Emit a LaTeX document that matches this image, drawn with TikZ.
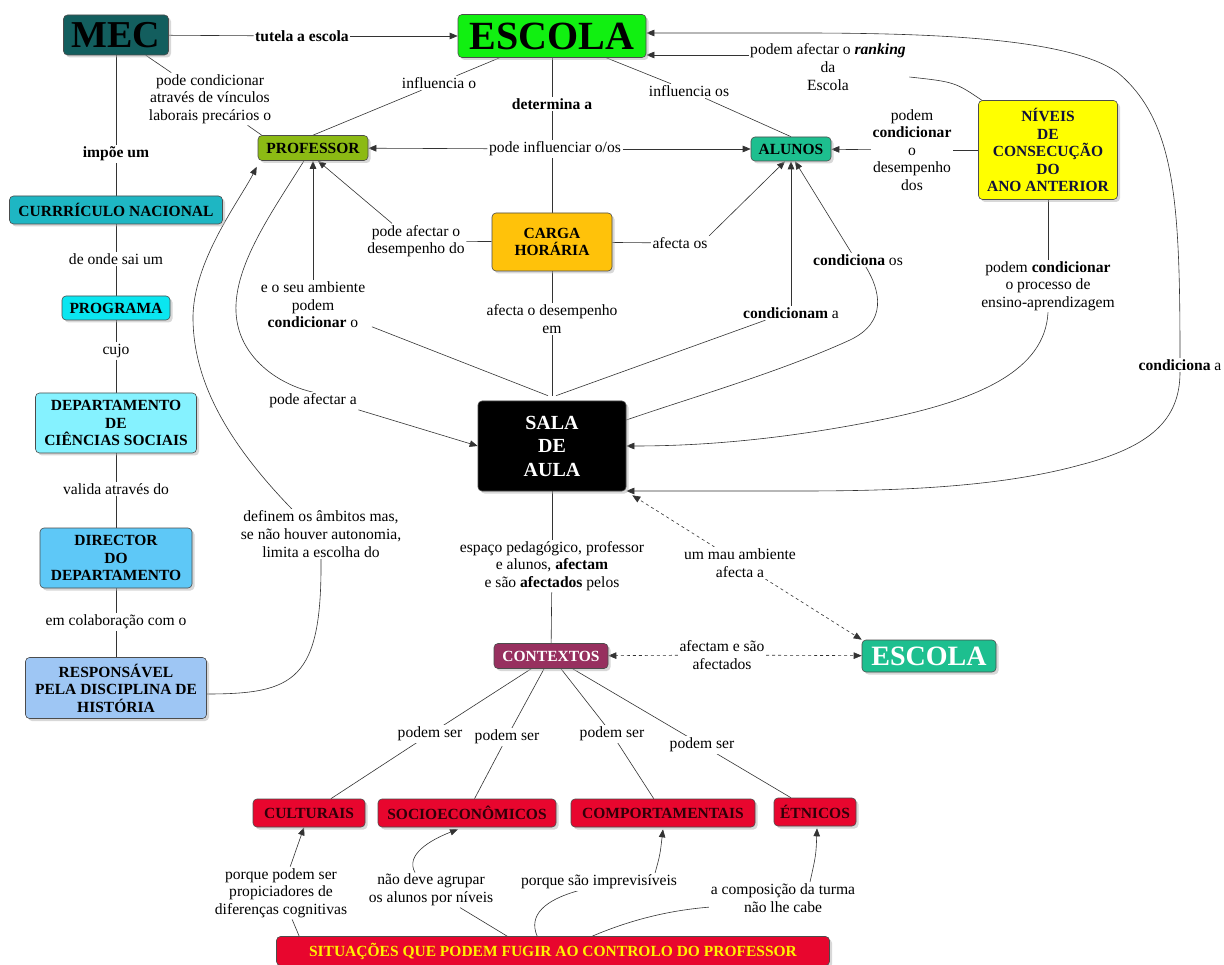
\documentclass[tikz,border=0pt]{standalone}
\usepackage{fontspec}
\setmainfont{Liberation Serif}
\usetikzlibrary{arrows.meta,shadows,backgrounds,calc}
\definecolor{cmec}{HTML}{135E5E}
\definecolor{cesc}{HTML}{11F011}
\definecolor{cprof}{HTML}{8CBA14}
\definecolor{calu}{HTML}{1DBF8F}
\definecolor{cniv}{HTML}{FFFF00}
\definecolor{ccar}{HTML}{FFC20A}
\definecolor{ccur}{HTML}{1EB6C3}
\definecolor{cprog}{HTML}{0AE6F0}
\definecolor{cdep}{HTML}{85F2FF}
\definecolor{cdir}{HTML}{5EC8F7}
\definecolor{cresp}{HTML}{9EC6F4}
\definecolor{cctx}{HTML}{97305F}
\definecolor{cred}{HTML}{E8062E}
\definecolor{credtxt}{HTML}{300008}
\definecolor{cline}{HTML}{333333}
\definecolor{cnivtxt}{HTML}{10103A}
\newcommand\cmbox{\fontsize{15.5}{17.5}\selectfont\bfseries}
\newcommand\cmlbl{\fontsize{15.6}{17.6}\selectfont}
\begin{document}
\begin{tikzpicture}[x=1pt,y=-1pt,
  cbox/.style={draw=black!70, line width=0.6pt, rounded corners=4pt, align=center,
    inner sep=0pt, font=\cmbox,
    drop shadow={shadow xshift=2.5pt, shadow yshift=-2.5pt, fill=black!30, opacity=0.5}},
  lbl/.style={font=\cmlbl, align=center, inner sep=1.5pt, fill=white},
  link/.style={draw=cline, line width=0.6pt},
  arr/.style={link, -{Triangle[length=8pt,width=6.5pt]}},
  darr/.style={link, dashed, -{Triangle[length=8pt,width=6.5pt]}}
]
\useasboundingbox (0,0) rectangle (1224,965);
\begin{scope}[on background layer]
\fill[white] (0,0) rectangle (1224,965);
\end{scope}

% ---------- concept boxes ----------
\node[cbox, fill=cmec, minimum width=105pt, minimum height=40pt, font=\fontsize{38}{40}\selectfont\bfseries] (mec) at (116,35) {MEC};
\node[cbox, fill=cesc, minimum width=188pt, minimum height=43pt, font=\fontsize{40}{42}\selectfont\bfseries] (esc) at (552,36) {ESCOLA};
\node[cbox, fill=cprof, minimum width=110pt, minimum height=25pt] (prof) at (313,148) {PROFESSOR};
\node[cbox, fill=calu, minimum width=80pt, minimum height=24pt] (alu) at (791,149) {ALUNOS};
\node[cbox, fill=cniv, text=cnivtxt, minimum width=139pt, minimum height=99pt] (niv) at (1048,150) {NÍVEIS\\DE\\CONSECUÇÃO\\DO\\ANO ANTERIOR};
\node[cbox, fill=ccar, minimum width=120pt, minimum height=58pt] (car) at (552,242) {CARGA\\HORÁRIA};
\node[cbox, fill=black, text=white, minimum width=148pt, minimum height=90pt, font=\fontsize{20}{23.5}\selectfont\bfseries] (sala) at (552,446) {SALA\\DE\\AULA};
\node[cbox, fill=ccur, minimum width=213pt, minimum height=28pt] (cur) at (116,210) {CURRRÍCULO NACIONAL};
\node[cbox, fill=cprog, minimum width=108pt, minimum height=24pt] (prog) at (116,308) {PROGRAMA};
\node[cbox, fill=cdep, minimum width=161pt, minimum height=60pt] (dep) at (116,423) {DEPARTAMENTO\\DE\\CIÊNCIAS SOCIAIS};
\node[cbox, fill=cdir, minimum width=152pt, minimum height=60pt] (dir) at (116,558) {DIRECTOR\\DO\\DEPARTAMENTO};
\node[cbox, fill=cresp, minimum width=181pt, minimum height=61pt] (resp) at (116,688) {RESPONSÁVEL\\PELA DISCIPLINA DE\\HISTÓRIA};
\node[cbox, fill=cctx, text=white, minimum width=114pt, minimum height=25pt] (ctx) at (551,656) {CONTEXTOS};
\node[cbox, fill=calu, text=white, minimum width=134pt, minimum height=32pt, font=\fontsize{28}{30}\selectfont\bfseries] (esc2) at (929,656) {ESCOLA};
\node[cbox, fill=cred, text=credtxt, minimum width=112pt, minimum height=28pt] (cult) at (309,813) {CULTURAIS};
\node[cbox, fill=cred, text=credtxt, minimum width=178pt, minimum height=28pt] (soc) at (467,813) {SOCIOECONÔMICOS};
\node[cbox, fill=cred, text=credtxt, minimum width=184pt, minimum height=28pt] (comp) at (663,813) {COMPORTAMENTAIS};
\node[cbox, fill=cred, text=credtxt, minimum width=82pt, minimum height=28pt] (etn) at (815,812) {ÉTNICOS};
\node[cbox, fill=cred, text=yellow, minimum width=553pt, minimum height=29pt] (sit) at (553,951) {SITUAÇÕES QUE PODEM FUGIR AO CONTROLO DO PROFESSOR};

% ---------- linking phrases ----------
\node[lbl] (tut) at (302,36) {\textbf{tutela a escola}};
\node[lbl] (pcond) at (210,99) {pode condicionar\\através de vínculos\\laborais precários o};
\node[lbl] (impoe) at (116,154) {\textbf{impõe um}};
\node[lbl] (deonde) at (116,259) {de onde sai um};
\node[lbl] (cujo) at (116,351) {cujo};
\node[lbl] (valida) at (116,489) {valida através do};
\node[lbl] (emcol) at (116,622) {em colaboração com o};
\node[lbl] (definem) at (321,534) {definem os âmbitos mas,\\se não houver autonomia,\\limita a escolha do};
\node[lbl] (eoseu) at (313,305) {e o seu ambiente\\podem\\\textbf{condicionar} o};
\node[lbl] (pafa) at (313,401) {pode afectar a};
\node[lbl] (paod) at (416,241) {pode afectar o\\desempenho do};
\node[lbl] (pinf) at (555,149) {pode influenciar o/os};
\node[lbl] (inflo) at (439,83) {influencia o};
\node[lbl] (inflos) at (689,91) {influencia os};
\node[lbl] (det) at (552,104) {\textbf{determina a}};
\node[lbl] (afos) at (680,243) {afecta os};
\node[lbl] (afdes) at (552,319) {afecta o desempenho\\em};
\node[lbl] (cnam) at (791,313) {\textbf{condicionam} a};
\node[lbl] (cnos) at (858,260) {\textbf{condiciona} os};
\node[lbl] (pcdes) at (912,150) {podem\\\textbf{condicionar}\\o\\desempenho\\dos};
\node[lbl] (rank) at (828,67) {podem afectar o \textbf{\textit{ranking}}\\da\\Escola};
\node[lbl] (cna) at (1180,365) {\textbf{condiciona} a};
\node[lbl] (pcproc) at (1048,286) {podem \textbf{condicionar}\\o processo de\\ensino-aprendizagem};
\node[lbl] (espaco) at (552,566) {espaço pedagógico, professor\\e alunos, \textbf{afectam}\\e são \textbf{afectados} pelos};
\node[lbl] (mau) at (740,563) {um mau ambiente\\afecta a};
\node[lbl] (afsao) at (722,655) {afectam e são\\afectados};
\node[lbl] (ps1) at (430,734) {podem ser};
\node[lbl] (ps2) at (507,737) {podem ser};
\node[lbl] (ps3) at (612,734) {podem ser};
\node[lbl] (ps4) at (702,745) {podem ser};
\node[lbl] (ppod) at (281,893) {porque podem ser\\propiciadores de\\diferenças cognitivas};
\node[lbl] (ndev) at (431,890) {não deve agrupar\\os alunos por níveis};
\node[lbl] (pimp) at (599,882) {porque são imprevisíveis};
\node[lbl] (acomp) at (783,898) {a composição da turma\\não lhe cabe};

% ---------- connectors ----------
\begin{scope}[on background layer]
\draw[link] (mec) -- (tut);
\draw[arr] (tut) -- (esc);
\draw[link] (mec) -- (pcond);
\draw[link] (pcond) -- ([xshift=4pt]prof.north west);
\draw[link] (mec) -- (impoe);
\draw[link] (impoe) -- (cur);
\draw[link] (cur) -- (deonde);
\draw[link] (deonde) -- (prog);
\draw[link] (prog) -- (cujo);
\draw[link] (cujo) -- (dep);
\draw[link] (dep) -- (valida);
\draw[link] (valida) -- (dir);
\draw[link] (dir) -- (emcol);
\draw[link] (emcol) -- (resp);
\draw[link] ($(resp.east)+(0,6)$) .. controls (295,694) and (322,680) .. (definem.south);
\draw[arr] ($(definem.north)+(-29,0)$) .. controls (225,440) and (194,380) .. (193,320)
  .. controls (192,262) and (240,200) .. ($(prof.south west)+(-1,6)$);
% escola
\draw[link] (esc) -- (inflo);
\draw[link] (inflo) -- (prof.north);
\draw[link] (esc) -- (inflos);
\draw[link] (inflos) -- (alu.north);
\draw[link] (esc) -- (det);
\draw[link] (det) -- (car);
\draw[arr] (pinf) -- (prof);
\draw[arr] (pinf) -- (alu);
% carga horaria
\draw[link] (car) -- (paod);
\draw[arr] ([xshift=-24pt]paod.north) -- ([xshift=5pt]prof.south);
\draw[link] (car) -- (afos);
\draw[arr] (afos.north east) -- ([xshift=-6pt]alu.south);
\draw[link] (car) -- (afdes);
\draw[link] (afdes) -- ($(sala.north)+(0,-5)$);
% sala -> professor
\draw[link] ($(sala.north)+(-4,-5)$) -- ($(eoseu.south east)+(5,-3)$);
\draw[arr] (eoseu) -- (prof);
\draw[link] ($(prof.south)+(-9,0)$) .. controls (272,212) and (234,265) .. (236,312)
  .. controls (238,358) and (280,385) .. (pafa.north);
\draw[arr] (pafa.south east) -- (sala.west);
% sala -> alunos
\draw[link] ($(sala.north)+(4,-5)$) -- ($(cnam.south west)+(24,0)$);
\draw[arr] (cnam) -- (alu);
\draw[link] ($(cnos.south)+(8,0)$) .. controls (880,290) and (888,322) .. (850,340)
  .. controls (780,372) and (690,398) .. ($(sala.east)+(0,-26)$);
\draw[arr] ([xshift=40pt]cnos.north west) -- ([xshift=4pt]alu.south);
% niveis
\draw[link] (niv) -- (pcdes);
\draw[arr] (pcdes) -- (alu);
\draw[link] ($(niv.north west)+(5,1)$) .. controls (955,82) .. ($(rank.east)+(2,10)$);
\draw[arr] ($(rank.west)+(0,-12)$) -- ($(esc.east)+(0,19)$);
\draw[link] (niv) -- (pcproc);
\draw[arr] (pcproc.south) .. controls (1045,370) and (980,400) .. (880,420)
  .. controls (780,440) and (700,446) .. (sala.east);
% escola <-> sala big arc
\draw[arr] (cna.north) .. controls (1180,200) and (1175,120) .. (1117,72)
  .. controls (1070,40) and (950,33) .. (800,33) -- ($(esc.east)+(0,-3)$);
\draw[arr] (cna.south) .. controls (1180,420) and (1150,447) .. (1080,465)
  .. controls (1000,487) and (900,491) .. (800,491) -- ($(sala.east)+(0,45)$);
% sala -> contextos
\draw[link] (sala) -- (espaco);
\draw[link] (espaco) -- (ctx);
\draw[darr] (mau) -- ($(sala.south east)+(6,4)$);
\draw[darr] (mau) -- (esc2.north west);
\draw[darr] (afsao) -- (ctx);
\draw[darr] (afsao) -- (esc2);
% contextos -> categories
\draw[link] (ctx) -- (ps1);
\draw[link] (ps1) -- (cult);
\draw[link] (ctx) -- (ps2);
\draw[link] (ps2) -- (soc);
\draw[link] (ctx) -- (ps3);
\draw[link] (ps3) -- (comp);
\draw[link] (ctx) -- (ps4);
\draw[link] (ps4) -- (etn);
% situacoes
\draw[link] ([xshift=23pt]sit.north west) -- (ppod);
\draw[arr] (ppod) -- (cult);
\draw[link] ([xshift=231pt]sit.north west) -- (ndev);
\draw[arr] ([xshift=-16pt]ndev.north) .. controls (405,855) and (430,840) .. ($(soc.south)+(-9,2)$);
\draw[link] ([xshift=261pt]sit.north west) .. controls (528,915) and (545,900) .. ($(pimp.south)+(-21,0)$);
\draw[arr] ([xshift=56pt]pimp.north) .. controls (660,855) .. ($(comp.south)+(0,2)$);
\draw[link] ([xshift=316pt]sit.north west) .. controls (630,920) and (670,910) .. ($(acomp.west)+(2,9)$);
\draw[arr] ([xshift=27pt]acomp.north) .. controls (816,855) .. ($(etn.south)+(2,2)$);
\end{scope}
\end{tikzpicture}
\end{document}
